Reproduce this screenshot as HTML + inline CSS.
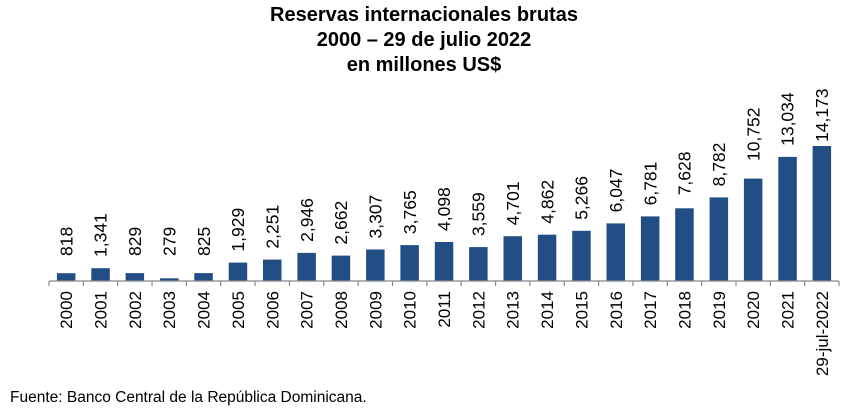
<!DOCTYPE html>
<html><head><meta charset="utf-8"><style>
body{margin:0;background:#fff;width:848px;height:410px;overflow:hidden}
</style></head><body>
<svg width="848" height="410" xmlns="http://www.w3.org/2000/svg" font-family="Liberation Sans, Arial, sans-serif">
<g font-weight="bold" font-size="20" text-anchor="middle" fill="#000">
<text x="424" y="21">Reservas internacionales brutas</text>
<text x="424" y="46">2000 – 29 de julio 2022</text>
<text x="424" y="71">en millones US$</text>
</g>
<g fill="#234d85">
<rect x="56.9" y="273.2" width="18.5" height="7.8"/>
<rect x="91.3" y="268.2" width="18.5" height="12.8"/>
<rect x="125.6" y="273.1" width="18.5" height="7.9"/>
<rect x="160.0" y="278.3" width="18.5" height="2.7"/>
<rect x="194.3" y="273.1" width="18.5" height="7.9"/>
<rect x="228.7" y="262.6" width="18.5" height="18.4"/>
<rect x="263.0" y="259.6" width="18.5" height="21.4"/>
<rect x="297.4" y="252.9" width="18.5" height="28.1"/>
<rect x="331.7" y="255.6" width="18.5" height="25.4"/>
<rect x="366.1" y="249.5" width="18.5" height="31.5"/>
<rect x="400.4" y="245.1" width="18.5" height="35.9"/>
<rect x="434.8" y="242.0" width="18.5" height="39.0"/>
<rect x="469.1" y="247.1" width="18.5" height="33.9"/>
<rect x="503.5" y="236.2" width="18.5" height="44.8"/>
<rect x="537.8" y="234.7" width="18.5" height="46.3"/>
<rect x="572.2" y="230.8" width="18.5" height="50.2"/>
<rect x="606.5" y="223.4" width="18.5" height="57.6"/>
<rect x="640.9" y="216.4" width="18.5" height="64.6"/>
<rect x="675.2" y="208.3" width="18.5" height="72.7"/>
<rect x="709.6" y="197.4" width="18.5" height="83.6"/>
<rect x="743.9" y="178.6" width="18.5" height="102.4"/>
<rect x="778.3" y="156.9" width="18.5" height="124.1"/>
<rect x="812.6" y="146.0" width="18.5" height="135.0"/>
</g>
<g stroke="#888" stroke-width="1.2">
<line x1="49" y1="281" x2="839" y2="281"/>
<line x1="49" y1="281" x2="49" y2="286"/><line x1="83.35" y1="281" x2="83.35" y2="286"/><line x1="117.7" y1="281" x2="117.7" y2="286"/><line x1="152.05" y1="281" x2="152.05" y2="286"/><line x1="186.4" y1="281" x2="186.4" y2="286"/><line x1="220.75" y1="281" x2="220.75" y2="286"/><line x1="255.1" y1="281" x2="255.1" y2="286"/><line x1="289.45" y1="281" x2="289.45" y2="286"/><line x1="323.8" y1="281" x2="323.8" y2="286"/><line x1="358.15" y1="281" x2="358.15" y2="286"/><line x1="392.5" y1="281" x2="392.5" y2="286"/><line x1="426.85" y1="281" x2="426.85" y2="286"/><line x1="461.2" y1="281" x2="461.2" y2="286"/><line x1="495.55" y1="281" x2="495.55" y2="286"/><line x1="529.9" y1="281" x2="529.9" y2="286"/><line x1="564.25" y1="281" x2="564.25" y2="286"/><line x1="598.6" y1="281" x2="598.6" y2="286"/><line x1="632.95" y1="281" x2="632.95" y2="286"/><line x1="667.3" y1="281" x2="667.3" y2="286"/><line x1="701.65" y1="281" x2="701.65" y2="286"/><line x1="736" y1="281" x2="736" y2="286"/><line x1="770.35" y1="281" x2="770.35" y2="286"/><line x1="804.7" y1="281" x2="804.7" y2="286"/><line x1="839" y1="281" x2="839" y2="286"/>
</g>
<g font-size="17.5" fill="#000">
<text transform="translate(72.4,256) rotate(-90)">818</text>
<text transform="translate(106.7,257) rotate(-90)">1,341</text>
<text transform="translate(141.1,256) rotate(-90)">829</text>
<text transform="translate(175.4,256) rotate(-90)">279</text>
<text transform="translate(209.8,256) rotate(-90)">825</text>
<text transform="translate(244.1,251.6) rotate(-90)">1,929</text>
<text transform="translate(278.5,248.6) rotate(-90)">2,251</text>
<text transform="translate(312.8,241.9) rotate(-90)">2,946</text>
<text transform="translate(347.2,244.6) rotate(-90)">2,662</text>
<text transform="translate(381.5,238.5) rotate(-90)">3,307</text>
<text transform="translate(415.9,234.1) rotate(-90)">3,765</text>
<text transform="translate(450.2,231) rotate(-90)">4,098</text>
<text transform="translate(484.6,236.1) rotate(-90)">3,559</text>
<text transform="translate(518.9,225.2) rotate(-90)">4,701</text>
<text transform="translate(553.3,223.7) rotate(-90)">4,862</text>
<text transform="translate(587.6,219.8) rotate(-90)">5,266</text>
<text transform="translate(622.0,212.4) rotate(-90)">6,047</text>
<text transform="translate(656.3,205.4) rotate(-90)">6,781</text>
<text transform="translate(690.7,195.3) rotate(-90)">7,628</text>
<text transform="translate(725.0,186.4) rotate(-90)">8,782</text>
<text transform="translate(759.4,161) rotate(-90)">10,752</text>
<text transform="translate(793.7,145.9) rotate(-90)">13,034</text>
<text transform="translate(828.1,142) rotate(-90)">14,173</text>
</g>
<g font-size="17" fill="#000" text-anchor="end">
<text transform="translate(72.2,291) rotate(-90)">2000</text>
<text transform="translate(106.5,291) rotate(-90)">2001</text>
<text transform="translate(140.9,291) rotate(-90)">2002</text>
<text transform="translate(175.2,291) rotate(-90)">2003</text>
<text transform="translate(209.6,291) rotate(-90)">2004</text>
<text transform="translate(243.9,291) rotate(-90)">2005</text>
<text transform="translate(278.3,291) rotate(-90)">2006</text>
<text transform="translate(312.6,291) rotate(-90)">2007</text>
<text transform="translate(347.0,291) rotate(-90)">2008</text>
<text transform="translate(381.3,291) rotate(-90)">2009</text>
<text transform="translate(415.7,291) rotate(-90)">2010</text>
<text transform="translate(450.0,291) rotate(-90)">2011</text>
<text transform="translate(484.4,291) rotate(-90)">2012</text>
<text transform="translate(518.7,291) rotate(-90)">2013</text>
<text transform="translate(553.1,291) rotate(-90)">2014</text>
<text transform="translate(587.4,291) rotate(-90)">2015</text>
<text transform="translate(621.8,291) rotate(-90)">2016</text>
<text transform="translate(656.1,291) rotate(-90)">2017</text>
<text transform="translate(690.5,291) rotate(-90)">2018</text>
<text transform="translate(724.8,291) rotate(-90)">2019</text>
<text transform="translate(759.2,291) rotate(-90)">2020</text>
<text transform="translate(793.5,291) rotate(-90)">2021</text>
<text transform="translate(827.9,291) rotate(-90)">29-jul-2022</text>
</g>
<text x="10" y="402" font-size="15.5" fill="#000">Fuente: Banco Central de la República Dominicana.</text>
</svg>
</body></html>
